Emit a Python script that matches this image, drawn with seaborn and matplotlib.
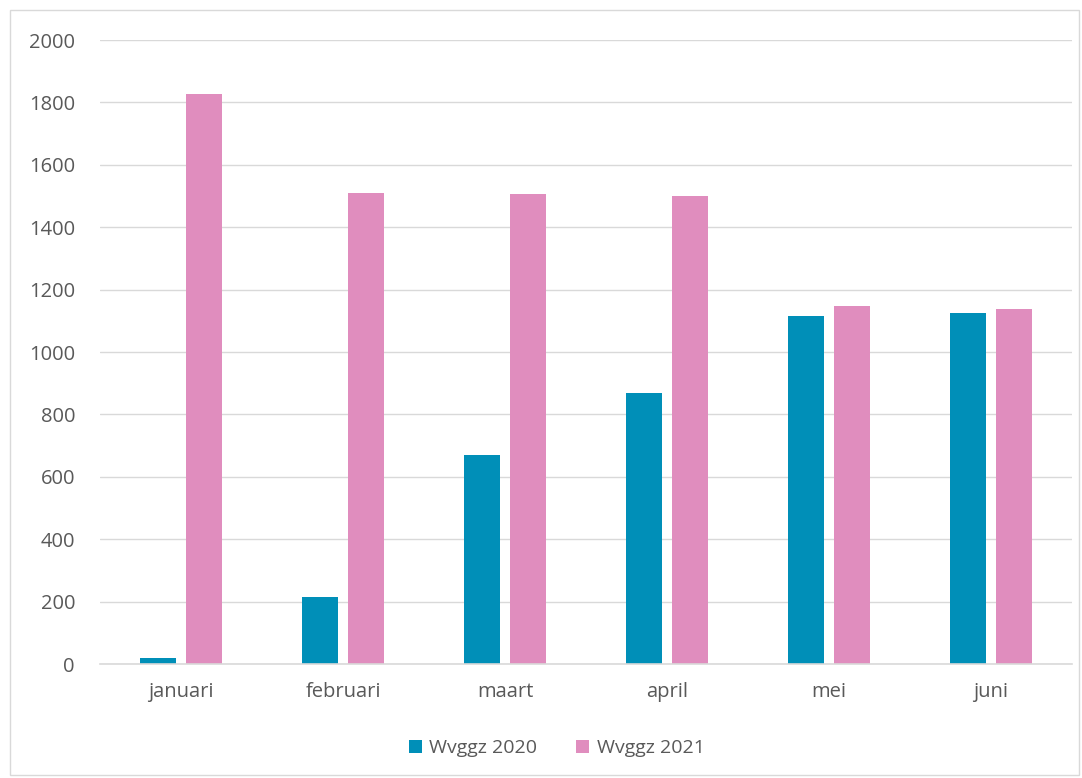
import pandas as pd
import matplotlib
matplotlib.use("Agg")
import matplotlib.pyplot as plt
from matplotlib.patches import Rectangle
import seaborn as sns

# data
maanden = ['januari', 'februari', 'maart', 'april', 'mei', 'juni']
wvggz_2020 = [19, 215, 670, 869, 1115, 1125]
wvggz_2021 = [1827, 1510, 1508, 1500, 1147, 1138]
yticks = [0, 200, 400, 600, 800, 1000, 1200, 1400, 1600, 1800, 2000]

df = pd.DataFrame({
    'maand': maanden * 2,
    'aantal': wvggz_2020 + wvggz_2021,
    'reeks': ['Wvggz 2020'] * len(maanden) + ['Wvggz 2021'] * len(maanden),
})

sns.set_theme(style='white')
plt.rcParams['font.family'] = ['Open Sans', 'DejaVu Sans']

fig = plt.figure(figsize=(10.82, 7.78), dpi=100)
ax = fig.add_axes([100 / 1082, 1 - 664 / 778, 972 / 1082, 624 / 778])

sns.barplot(data=df, x='maand', y='aantal', hue='reeks', order=maanden,
            palette=['#008FB8', '#E08DBE'], width=0.574, gap=0.215,
            saturation=1, errorbar=None, linewidth=0, ax=ax)

ax.set_ylim(0, 2000)
ax.set_xlim(-0.5, len(maanden) - 0.5)
ax.set_yticks(yticks)
ax.yaxis.grid(True, color='#D9D9D9', linewidth=1)
ax.set_axisbelow(True)
for s in ['left', 'right', 'top']:
    ax.spines[s].set_visible(False)
ax.spines['bottom'].set_color('#D9D9D9')
ax.spines['bottom'].set_linewidth(1.2)
ax.tick_params(axis='both', length=0, labelsize=14.5, colors='#595959')
ax.tick_params(axis='x', pad=13)
ax.tick_params(axis='y', pad=18)
ax.set_xlabel('')
ax.set_ylabel('')

ax.legend(loc='center', bbox_to_anchor=(0.47, -0.135), ncol=2, frameon=False,
          fontsize=14, labelcolor='#595959', handlelength=0.65, handleheight=0.65,
          handletextpad=0.4, columnspacing=2.0)

fig.patches.append(Rectangle((10 / 1082, 3 / 778), 1069 / 1082, 765 / 778,
                             transform=fig.transFigure, fill=False,
                             edgecolor='#D9D9D9', linewidth=1))

fig.savefig('out.png', dpi=100)
